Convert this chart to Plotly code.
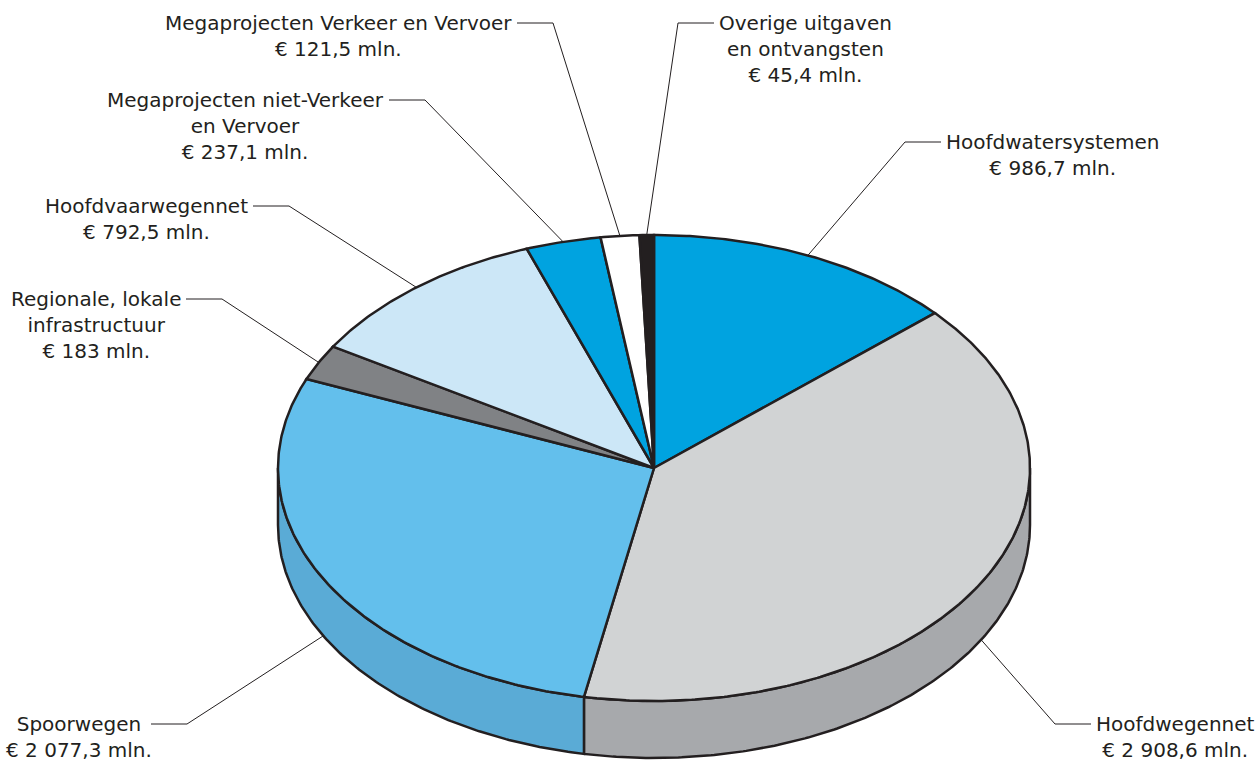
import math
import plotly.graph_objects as go

# ---------------- data ----------------
categories = [
    "Hoofdwatersystemen",
    "Hoofdwegennet",
    "Spoorwegen",
    "Regionale, lokale infrastructuur",
    "Hoofdvaarwegennet",
    "Megaprojecten niet-Verkeer en Vervoer",
    "Megaprojecten Verkeer en Vervoer",
    "Overige uitgaven en ontvangsten",
]
values = [986.7, 2908.6, 2077.3, 183.0, 792.5, 237.1, 121.5, 45.4]
label_texts = [
    "Hoofdwatersystemen<br>€ 986,7 mln.",
    "Hoofdwegennet<br>€ 2 908,6 mln.",
    "Spoorwegen<br>€ 2 077,3 mln.",
    "Regionale, lokale<br>infrastructuur<br>€ 183 mln.",
    "Hoofdvaarwegennet<br>€ 792,5 mln.",
    "Megaprojecten niet-Verkeer<br>en Vervoer<br>€ 237,1 mln.",
    "Megaprojecten Verkeer en Vervoer<br>€ 121,5 mln.",
    "Overige uitgaven<br>en ontvangsten<br>€ 45,4 mln.",
]

# ---------------- style / layout ----------------
top_colors = ["#00A3E0", "#D1D3D4", "#63BFEC", "#808285",
              "#CCE7F7", "#00A3E0", "#FFFFFF", "#231F20"]
side_colors = ["#0089BE", "#A7A9AC", "#5AABD6", "#6D6F72",
               "#AFCFE2", "#0089BE", "#DDDDDD", "#231F20"]
INK = "#231F20"
FONT = "DejaVu Sans"
FSIZE = 20

W, H = 1260, 765
CX, CY = 654, 468      # centre of top face
RX, RY = 376, 233      # radii of top face
DEPTH = 57             # thickness of the pie

# label placement: elbow point of leader line and side the text is on
label_elbow = [(905, 142), (1055, 724), (187, 724), (222, 299),
               (289, 206), (425, 100), (553, 23), (678, 23)]
label_side = ["right", "right", "left", "left", "left", "left", "left", "right"]
label_dx = [0, 0, 6, 0, 0, 0, 0, 0]
STUB = 36
GAP = 3


def pt(theta_deg, dy=0.0, r=1.0):
    t = math.radians(theta_deg)
    return CX + r * RX * math.sin(t), CY - r * RY * math.cos(t) + dy


def arc(a1, a2, dy=0.0):
    n = max(2, int(abs(a2 - a1) / 0.5) + 1)
    xs, ys = [], []
    for i in range(n + 1):
        a = a1 + (a2 - a1) * i / n
        x, y = pt(a, dy)
        xs.append(x)
        ys.append(y)
    return xs, ys


total = sum(values)
bounds = []
acc = 0.0
for v in values:
    a1 = acc / total * 360.0
    acc += v
    a2 = acc / total * 360.0
    bounds.append((a1, a2))

fig = go.Figure()

# side faces (front half only: 90..270 degrees)
for i, (a1, a2) in enumerate(bounds):
    s1, s2 = max(a1, 90.0), min(a2, 270.0)
    if s2 <= s1:
        continue
    tx, ty = arc(s1, s2)
    bx, by = arc(s2, s1, DEPTH)
    xs = tx + bx + [tx[0]]
    ys = ty + by + [ty[0]]
    fig.add_trace(go.Scatter(x=xs, y=ys, mode="lines", fill="toself",
                             fillcolor=side_colors[i],
                             line=dict(color=INK, width=2.5),
                             hoverinfo="skip", showlegend=False))

# top faces
for i, (a1, a2) in enumerate(bounds):
    ax, ay = arc(a1, a2)
    xs = [CX] + ax + [CX]
    ys = [CY] + ay + [CY]
    fig.add_trace(go.Scatter(x=xs, y=ys, mode="lines", fill="toself",
                             fillcolor=top_colors[i],
                             line=dict(color=INK, width=2.5),
                             hoverinfo="skip", showlegend=False))

# leader lines and labels
for i, (a1, a2) in enumerate(bounds):
    mid = (a1 + a2) / 2.0
    dy = DEPTH if 90.0 < mid < 270.0 else 0.0
    axp, ayp = pt(mid, dy)
    ex, ey = label_elbow[i]
    if label_side[i] == "right":
        sx = ex + STUB
        tx = sx + GAP
        xanchor = "left"
    else:
        sx = ex - STUB
        tx = sx - GAP
        xanchor = "right"
    fig.add_trace(go.Scatter(x=[axp, ex, sx], y=[ayp, ey, ey], mode="lines",
                             line=dict(color=INK, width=1),
                             hoverinfo="skip", showlegend=False))
    fig.add_annotation(x=tx + label_dx[i], y=ey - 14, text=label_texts[i],
                       showarrow=False, xanchor=xanchor, yanchor="top",
                       align="center",
                       font=dict(family=FONT, size=FSIZE, color=INK))

fig.update_layout(
    width=W, height=H, autosize=False,
    margin=dict(l=0, r=0, t=0, b=0),
    paper_bgcolor="white", plot_bgcolor="white",
    xaxis=dict(range=[0, W], visible=False, fixedrange=True),
    yaxis=dict(range=[H, 0], visible=False, fixedrange=True),
    hovermode=False, showlegend=False,
)

fig.write_html(
    "out.html",
    config={"displayModeBar": False},
    post_script="document.body.style.margin='0';document.body.style.overflow='hidden';",
)
